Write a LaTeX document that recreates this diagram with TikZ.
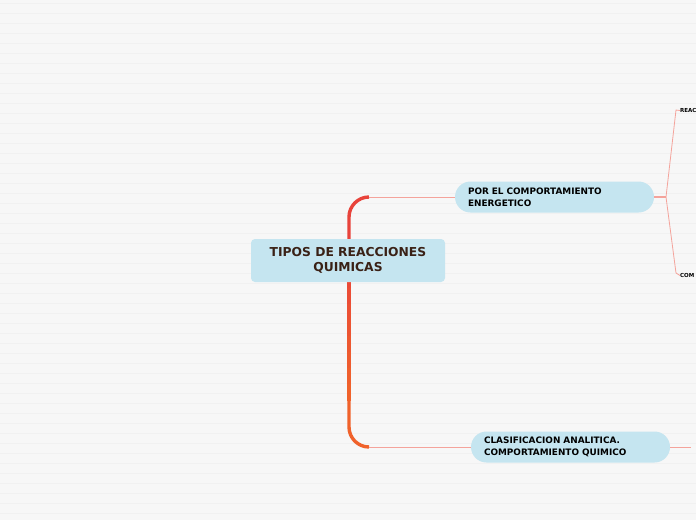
\documentclass[tikz,border=0pt]{standalone}
\usepackage{fontspec}
\setmainfont{DejaVu Sans}
\definecolor{bg}{HTML}{F7F7F7}
\definecolor{bgline}{HTML}{F1F1F1}
\definecolor{nodefill}{HTML}{C5E5F0}
\definecolor{maintext}{HTML}{3A2116}
\definecolor{thinred}{HTML}{F4A39B}
\definecolor{trunktop}{HTML}{E8433B}
\definecolor{trunkbot}{HTML}{F0622B}
\tikzset{
  mainbox/.style={fill=nodefill, rounded corners=4pt, minimum width=194pt, minimum height=43pt, inner sep=0pt, align=center, font=\fontsize{12.3}{15}\selectfont\bfseries, text=maintext},
  subbox/.style={fill=nodefill, rounded corners=15.5pt, minimum width=199pt, minimum height=31pt, inner sep=0pt, text width=173pt, align=left, font=\fontsize{8.9}{12}\selectfont\bfseries, text=black},
  leaf/.style={anchor=west, inner sep=0pt, font=\fontsize{5.5}{6}\selectfont\bfseries, text=black},
  thin/.style={draw=thinred, line width=0.8pt},
  trunk/.style={line width=3.4pt},
}
\begin{document}
\begin{tikzpicture}[x=1pt,y=-1pt]
\useasboundingbox (0,0) rectangle (696,520);
\fill[bg] (0,0) rectangle (696,520);
\foreach \k in {0,...,51} {
  \draw[bgline, line width=0.6pt] (0,3.5+10*\k) -- (696,3.5+10*\k);
}
% coordinates
\coordinate (tl) at (369,197);
\coordinate (bl) at (369,447);
\coordinate (fork) at (666,197);
\coordinate (cend) at (691,447);
% trunk (behind nodes)
\draw[trunktop, trunk, rounded corners=20pt] (tl) -- (349,197) -- (349,241);
\foreach \i in {0,...,9} {
  \pgfmathsetmacro{\p}{100-\i*100/9}
  \draw[trunktop!\p!trunkbot, trunk] (349,240+16*\i) -- (349,257+16*\i);
}
\draw[trunkbot, trunk, rounded corners=20pt] (349,399) -- (349,447) -- (bl);
% nodes
\node[mainbox] (root) at (348,260.5) {TIPOS DE REACCIONES\\QUIMICAS};
\node[subbox] (e) at (554.5,197) {POR EL COMPORTAMIENTO\\ENERGETICO};
\node[subbox] (c) at (570.5,447) {CLASIFICACION ANALITICA.\\COMPORTAMIENTO QUIMICO};
\node[leaf] (r1) at (680,110.5) {REAC};
\node[leaf] (r2) at (680,275.5) {COM};
% branches
\draw[thin] (tl) -- (e.west);
\draw[thin] (bl) -- (c.west);
\draw[thinred, line width=2.5pt] (e.east) -- (fork);
\draw[thin] (fork) -- (676,110) -- (r1.west);
\draw[thin] (fork) -- (676,273) -- (r2.west);
\draw[thin] (c.east) -- (cend);
\end{tikzpicture}
\end{document}
